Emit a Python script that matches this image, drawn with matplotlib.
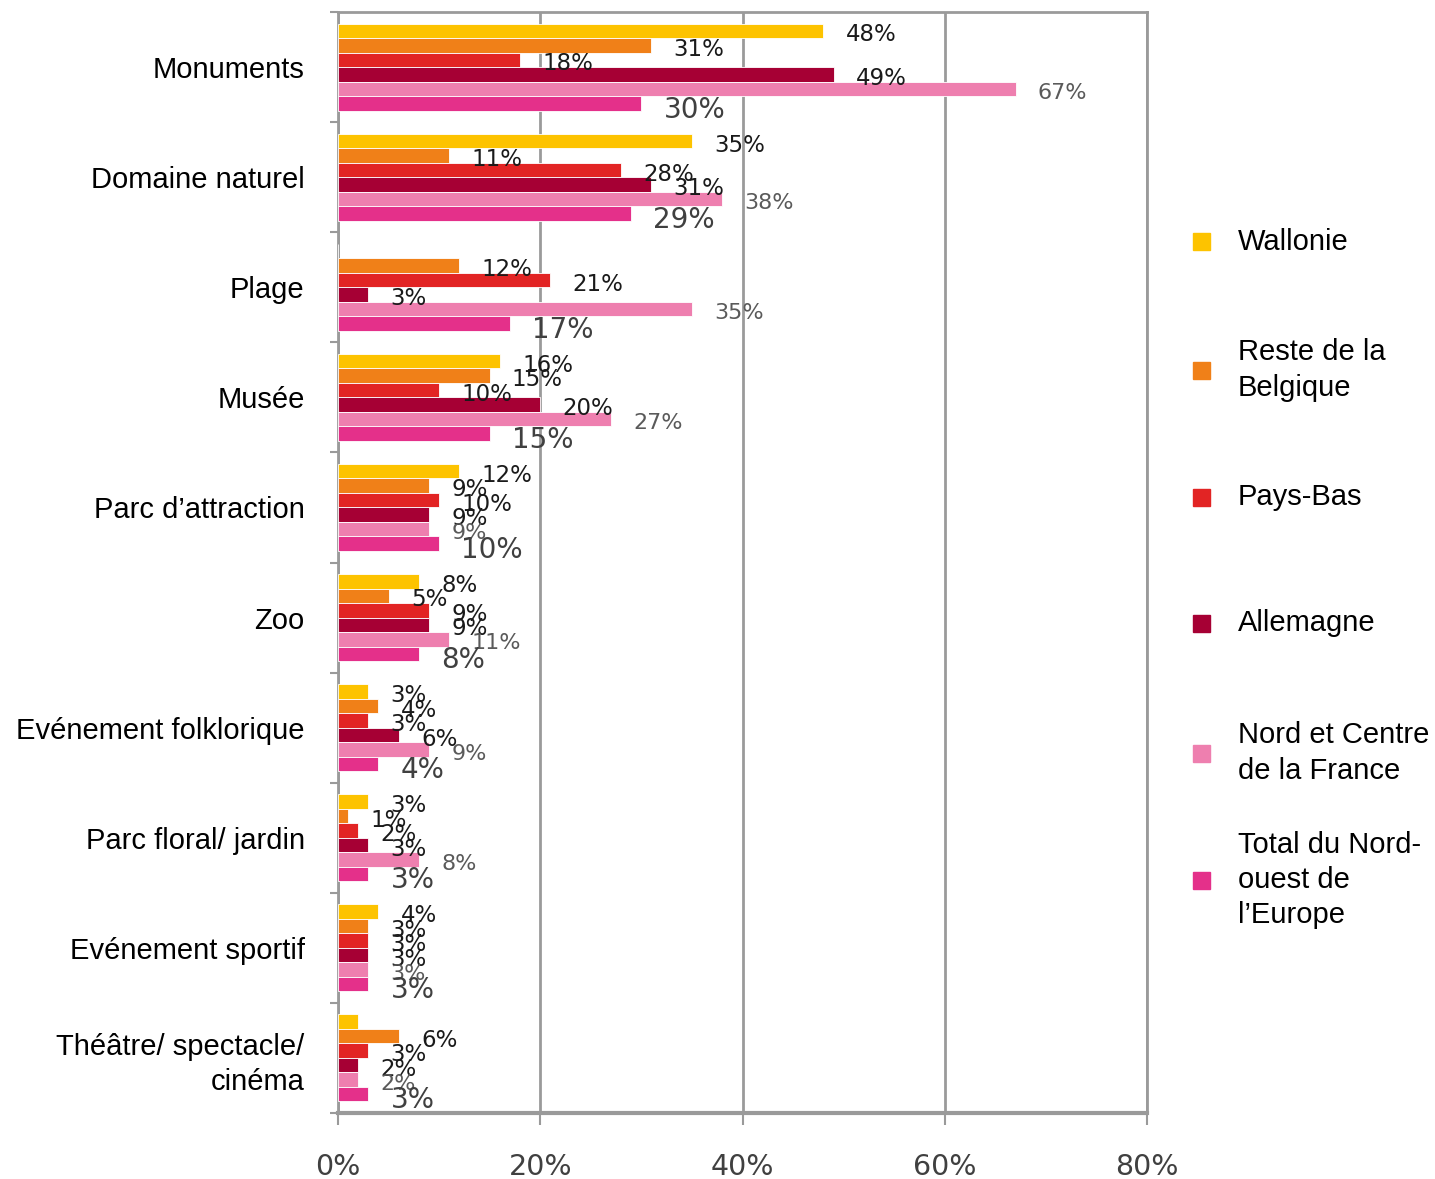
import numpy as np
import matplotlib.pyplot as plt
from matplotlib.patches import Rectangle
from matplotlib.ticker import FixedLocator, PercentFormatter

categories = ["Monuments", "Domaine naturel", "Plage", "Musée", "Parc d\u2019attraction",
              "Zoo", "Evénement folklorique", "Parc floral/ jardin", "Evénement sportif",
              "Théâtre/ spectacle/\ncinéma"]

series_names = ["Wallonie", "Reste de la\nBelgique", "Pays-Bas", "Allemagne",
                "Nord et Centre\nde la France", "Total du Nord-\nouest de\nl\u2019Europe"]

wallonie = [48, 35, 0, 16, 12, 8, 3, 3, 4, 2]
reste_belgique = [31, 11, 12, 15, 9, 5, 4, 1, 3, 6]
pays_bas = [18, 28, 21, 10, 10, 9, 3, 2, 3, 3]
allemagne = [49, 31, 3, 20, 9, 9, 6, 3, 3, 2]
nord_centre = [67, 38, 35, 27, 9, 11, 9, 8, 3, 2]
total = [30, 29, 17, 15, 10, 8, 4, 3, 3, 3]

# (series index, category index) pairs that have no value label in the original
no_label = [(0, 2), (0, 9)]

series = [wallonie, reste_belgique, pays_bas, allemagne, nord_centre, total]
colors = ["#FDC300", "#F08018", "#E22424", "#A60034", "#EE7FAF", "#E4308A"]
label_colors = ["#1a1a1a", "#1a1a1a", "#1a1a1a", "#1a1a1a", "#5a5a5a", "#404040"]
label_sizes = [16.5, 16.5, 16.5, 16.5, 16, 20]
label_dy = [-3, -3, -3, -3, -3, -4.5]

fig = plt.figure(figsize=(14.35, 11.79), dpi=100)
ax = fig.add_axes([338 / 1435, 1 - 1113 / 1179, (1147 - 338) / 1435, (1113 - 12) / 1179])

n = len(series)
h = 0.79 / n
y = np.arange(len(categories))

for j, vals in enumerate(series):
    pos = y + (j - (n - 1) / 2) * h
    ax.barh(pos, vals, height=h, color=colors[j], edgecolor="white", linewidth=0.6, zorder=3)
    for i, v in enumerate(vals):
        if (j, i) in no_label:
            continue
        ax.annotate(f"{v}%", xy=(v, pos[i]), xytext=(16, label_dy[j]),
                    textcoords="offset points", ha="left", va="center",
                    fontsize=label_sizes[j], color=label_colors[j], zorder=5,
                    family="DejaVu Sans")

ax.set_xlim(0, 80)
ax.set_ylim(len(categories) - 0.5, -0.5)

ax.xaxis.set_major_locator(FixedLocator([0, 20, 40, 60, 80]))
ax.xaxis.set_major_formatter(PercentFormatter(decimals=0))
ax.tick_params(axis="x", which="major", length=8.6, width=1.5, color="#9a9a9a",
               labelsize=20.5, labelcolor="#404040", pad=20)
ax.grid(axis="x", color="#9a9a9a", linewidth=2, zorder=0)

ax.yaxis.set_major_locator(FixedLocator(np.arange(len(categories) + 1) - 0.5))
ax.yaxis.set_major_formatter(plt.NullFormatter())
ax.set_yticks(y, categories, minor=True)
ax.tick_params(axis="y", which="major", length=5.8, width=1.5, color="#9a9a9a")
ax.tick_params(axis="y", which="minor", length=0, pad=24, labelsize=21, labelcolor="black")
for lbl in ax.get_yticklabels(minor=True):
    lbl.set_family("Liberation Sans")
    lbl.set_horizontalalignment("right")
    lbl.set_multialignment("right")
    lbl.set_linespacing(1.33)

for s in ax.spines.values():
    s.set_color("#9a9a9a")
    s.set_linewidth(2)
ax.spines["bottom"].set_linewidth(3)

# legend drawn at the right, evenly spaced entries
legend_y = [242, 370, 497, 623, 753, 880]
for j, name in enumerate(series_names):
    yy = 1 - legend_y[j] / 1179
    fig.add_artist(Rectangle((1193 / 1435, yy - 8.5 / 1179), 17 / 1435, 17 / 1179,
                             transform=fig.transFigure, color=colors[j]))
    fig.text(1238 / 1435, yy, name, ha="left", va="center", fontsize=21,
             family="Liberation Sans", color="black", linespacing=1.33)

fig.savefig("out.png", dpi=100)
